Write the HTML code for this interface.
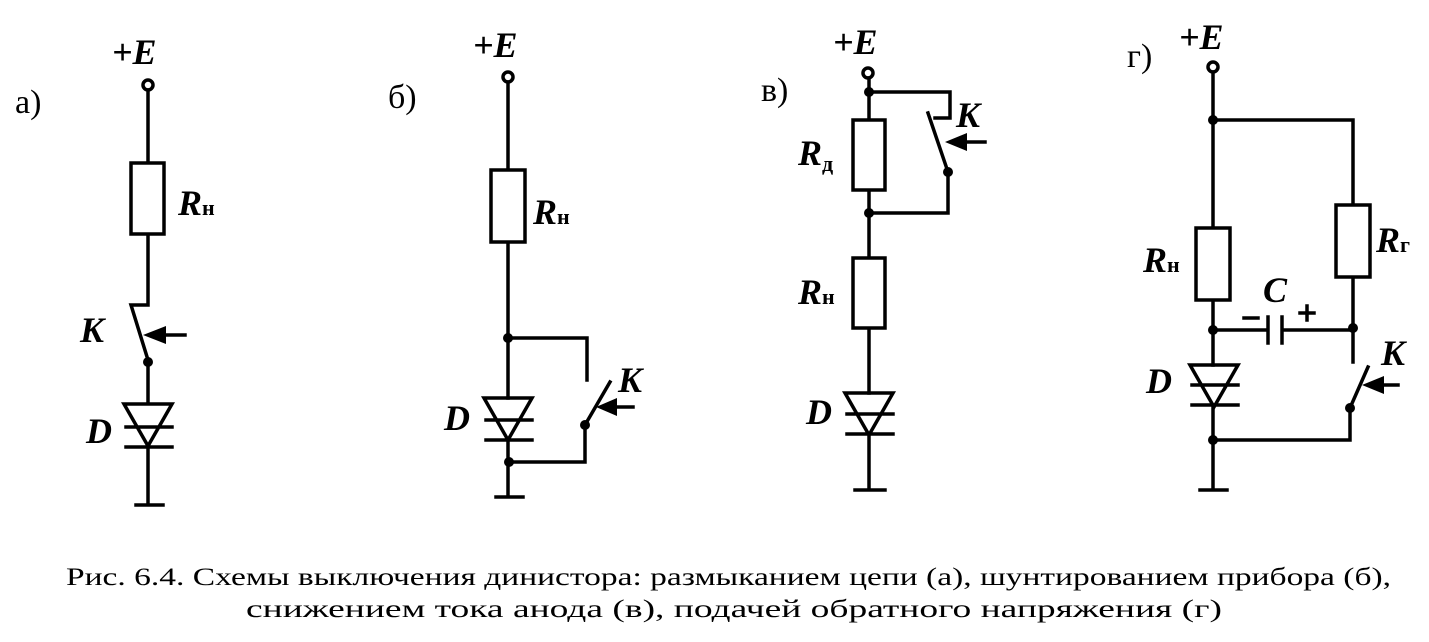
<!DOCTYPE html>
<html><head><meta charset="utf-8"><style>
html,body{margin:0;padding:0;background:#fff;}
svg{display:block;}
text{font-family:"Liberation Serif",serif;fill:#000;}
.l{font-style:italic;font-weight:bold;font-size:36px;}
.s{font-style:normal;font-weight:bold;font-size:22px;}
.c{font-size:25px;}
</style></head><body>
<svg width="1429" height="642" viewBox="0 0 1429 642" xmlns="http://www.w3.org/2000/svg">
<g stroke="#000" stroke-width="3.5" fill="none" stroke-linecap="square">
<!-- a -->
<circle cx="148" cy="85" r="5"/>
<path d="M148 90V163M131 163h33v71h-33zM148 234V305H131L148 360M148 362V403"/>
<path d="M124 404h48l-24 42zM126 427h46M126 447h46M148 446V505M136 505h27"/>
<path d="M185 335H160"/>
<!-- b -->
<circle cx="508" cy="77" r="5"/>
<path d="M508 82V170M491 170h34v72h-34zM508 242V398M508 338H587V380M585 425L610 382M585 425V462H508M508 440V497M496 497h27"/>
<path d="M484 398h48l-24 42zM486 420h46M486 440h46"/>
<path d="M633 407H608"/>
<!-- c -->
<circle cx="868" cy="73" r="5"/>
<path d="M869 78V120M853 120h32v70h-32zM869 92H950V118H935M928 113L948 172M948 172V213H869M869 190V258M853 258h32v70h-32zM869 328V393M869 434V490M855 490h30"/>
<path d="M845 393h48l-24 42zM847 414h46M847 434h46"/>
<path d="M985 142H960"/>
<!-- d -->
<circle cx="1213" cy="67" r="5"/>
<path d="M1213 72V228M1213 120H1353V205M1336 205h34v72h-34zM1353 277V362M1196 228h34v72h-34zM1213 300V365M1213 330H1268M1282 330H1353M1268 317v26M1282 317v26M1350 408L1368 367M1350 408V440H1213M1213 405V490M1200 490h27"/>
<path d="M1190 365h48l-24 42zM1192 385h46M1192 405h46"/>
<path d="M1398 385H1372"/>
<path d="M1244 318h14M1300 313h14M1307 306v14"/>
</g>
<g fill="#000">
<circle cx="148" cy="362" r="5"/>
<polygon points="143,335 166,326 166,344"/>
<circle cx="508" cy="338" r="5"/><circle cx="585" cy="425" r="5"/><circle cx="509" cy="462" r="5"/>
<polygon points="596,407 617,398 617,416"/>
<circle cx="869" cy="92" r="5"/><circle cx="948" cy="172" r="5"/><circle cx="869" cy="213" r="5"/>
<polygon points="945,142 967,133 967,151"/>
<circle cx="1213" cy="120" r="5"/><circle cx="1213" cy="330" r="5"/><circle cx="1353" cy="328" r="5"/><circle cx="1350" cy="408" r="5"/><circle cx="1213" cy="440" r="5"/>
<polygon points="1362,385 1384,376 1384,394"/>
</g>
<text x="15" y="113" font-size="34">а)</text>
<text x="388" y="108" font-size="34">б)</text>
<text x="761" y="101" font-size="34">в)</text>
<text x="1127" y="67" font-size="34">г)</text>
<text class="l" x="112" y="64">+E</text>
<text class="l" x="473" y="57">+E</text>
<text class="l" x="833" y="54">+E</text>
<text class="l" x="1179" y="49">+E</text>
<text class="l" x="178" y="215">R<tspan class="s">н</tspan></text>
<text class="l" x="533" y="224">R<tspan class="s">н</tspan></text>
<text class="l" x="798" y="165">R<tspan class="s" dy="6">д</tspan></text>
<text class="l" x="798" y="304">R<tspan class="s">н</tspan></text>
<text class="l" x="1143" y="272">R<tspan class="s">н</tspan></text>
<text class="l" x="1376" y="252">R<tspan class="s">г</tspan></text>
<text class="l" x="80" y="342">K</text>
<text class="l" x="618" y="392">K</text>
<text class="l" x="956" y="127">K</text>
<text class="l" x="1381" y="365">K</text>
<text class="l" x="86" y="443">D</text>
<text class="l" x="444" y="430">D</text>
<text class="l" x="806" y="424">D</text>
<text class="l" x="1146" y="393">D</text>
<text class="l" x="1263" y="302">C</text>
<text class="c" x="66" y="585" textLength="1325" lengthAdjust="spacingAndGlyphs">Рис. 6.4. Схемы выключения динистора: размыканием цепи (а), шунтированием прибора (б),</text>
<text class="c" x="246" y="617" textLength="976" lengthAdjust="spacingAndGlyphs">снижением тока анода (в), подачей обратного напряжения (г)</text>
</svg>
</body></html>
